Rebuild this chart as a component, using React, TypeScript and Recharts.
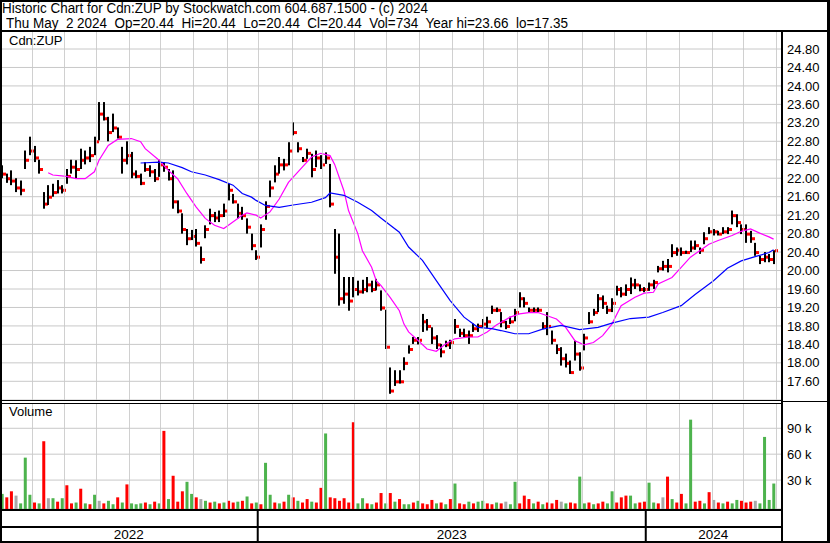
import { ComposedChart, Bar, Line, XAxis, YAxis, CartesianGrid } from 'recharts';

// price bars, one every ~3 sessions (May 2022 -> May 2024)
const HIGH = [
  22.28, 22.1, 22.17, 22.0, 21.95, 22.6, 22.9, 22.7, 22.4, 21.7,
  21.85, 21.88, 21.96, 21.85, 22.2, 22.4, 22.39, 22.64, 22.6, 22.68,
  22.9, 23.65, 23.65, 23.33, 23.4, 23.1, 22.68, 22.8, 22.57, 22.17,
  22.1, 22.35, 22.28, 22.2, 22.4, 22.35, 22.2, 22.17, 21.52, 21.24,
  20.9, 20.88, 20.9, 20.52, 20.98, 21.34, 21.27, 21.3, 21.45, 21.88,
  21.66, 21.45, 21.38, 21.13, 20.8, 20.44, 21.0, 21.5, 21.95, 22.28,
  22.46, 22.42, 22.78, 23.21, 22.78, 22.46, 22.64, 22.53, 22.6, 22.5,
  22.56, 22.31, 20.9, 20.8, 19.86, 19.86, 19.86, 19.78, 19.8, 19.86,
  19.78, 19.82, 19.57, 19.15, 17.9, 17.84, 17.84, 18.12, 18.38, 18.56,
  18.56, 19.06, 18.95, 18.77, 18.6, 18.41, 18.48, 18.5, 18.95, 18.74,
  18.74, 18.7, 18.85, 18.85, 18.95, 19.0, 19.24, 19.2, 19.1, 18.91,
  19.0, 19.17, 19.53, 19.42, 19.2, 19.2, 19.2, 18.88, 19.1, 18.7,
  18.4, 18.34, 18.2, 18.05, 18.48, 18.23, 18.63, 19.1, 19.17, 19.49,
  19.46, 19.24, 19.4, 19.67, 19.64, 19.7, 19.85, 19.82, 19.7, 19.64,
  19.74, 19.8, 20.1, 20.21, 20.25, 20.57, 20.5, 20.5, 20.43, 20.65,
  20.65, 20.5, 20.83, 20.94, 20.9, 20.86, 20.94, 20.94, 21.3, 21.22,
  21.0, 21.0, 20.86, 20.6, 20.32, 20.4, 20.36, 20.44,
];
const LOW = [
  22.0, 21.9, 21.85, 21.7, 21.63, 22.2, 22.5, 22.35, 22.1, 21.34,
  21.42, 21.6, 21.67, 21.67, 21.88, 22.1, 22.0, 22.2, 22.3, 22.35,
  22.5, 22.82, 23.25, 22.8, 23.0, 22.86, 22.1, 22.3, 22.0, 22.0,
  21.85, 22.14, 22.03, 21.92, 22.03, 22.14, 21.95, 21.34, 21.24, 20.8,
  20.55, 20.66, 20.52, 20.15, 20.7, 21.0, 21.05, 21.05, 21.16, 21.52,
  21.45, 21.13, 21.1, 20.8, 20.44, 20.23, 20.5, 21.1, 21.59, 21.91,
  22.1, 22.17, 22.28, 22.93, 22.56, 22.35, 22.42, 22.02, 22.24, 22.2,
  22.31, 21.37, 19.93, 19.24, 19.28, 19.13, 19.42, 19.46, 19.5, 19.53,
  19.53, 19.57, 19.13, 18.3, 17.33, 17.5, 17.55, 17.84, 18.2, 18.41,
  18.4, 18.67, 18.7, 18.41, 18.3, 18.12, 18.34, 18.3, 18.63, 18.56,
  18.56, 18.41, 18.67, 18.67, 18.77, 18.75, 19.06, 19.1, 18.77, 18.73,
  18.84, 18.9, 19.2, 19.2, 19.1, 19.1, 19.1, 18.73, 18.6, 18.4,
  18.19, 17.94, 17.9, 17.76, 18.05, 17.83, 18.27, 18.84, 19.02, 19.1,
  19.17, 19.06, 19.1, 19.46, 19.42, 19.45, 19.49, 19.6, 19.55, 19.53,
  19.56, 19.6, 19.96, 20.0, 19.96, 20.29, 20.32, 20.32, 20.36, 20.4,
  20.45, 20.36, 20.57, 20.79, 20.76, 20.76, 20.79, 20.79, 21.0, 20.94,
  20.79, 20.6, 20.6, 20.32, 20.14, 20.18, 20.18, 20.14,
];
const CLOSE = [
  22.1, 22.0, 21.95, 21.8, 21.75, 22.4, 22.6, 22.45, 22.2, 21.45,
  21.6, 21.7, 21.8, 21.75, 22.05, 22.25, 22.2, 22.4, 22.45, 22.5,
  22.8, 23.4, 23.3, 23.0, 23.1, 22.9, 22.4, 22.5, 22.1, 22.05,
  21.9, 22.2, 22.15, 22.0, 22.3, 22.25, 22.0, 21.5, 21.3, 20.9,
  20.7, 20.75, 20.6, 20.25, 20.9, 21.2, 21.15, 21.2, 21.3, 21.75,
  21.5, 21.25, 21.2, 20.95, 20.55, 20.3, 20.9, 21.4, 21.8, 22.1,
  22.3, 22.3, 22.6, 23.0, 22.65, 22.4, 22.55, 22.2, 22.45, 22.3,
  22.45, 21.45, 20.3, 19.4, 19.5, 19.35, 19.6, 19.55, 19.6, 19.7,
  19.6, 19.7, 19.2, 18.35, 17.4, 17.6, 17.6, 18.0, 18.3, 18.5,
  18.5, 18.9, 18.8, 18.55, 18.4, 18.25, 18.4, 18.45, 18.8, 18.65,
  18.6, 18.6, 18.75, 18.8, 18.85, 18.9, 19.15, 19.15, 18.9, 18.8,
  18.9, 19.1, 19.4, 19.3, 19.15, 19.15, 19.15, 18.8, 18.8, 18.5,
  18.3, 18.1, 18.0, 17.8, 18.2, 17.9, 18.55, 18.9, 19.1, 19.4,
  19.3, 19.15, 19.3, 19.6, 19.5, 19.6, 19.7, 19.7, 19.6, 19.6,
  19.7, 19.75, 20.05, 20.1, 20.1, 20.4, 20.45, 20.4, 20.4, 20.5,
  20.55, 20.45, 20.7, 20.85, 20.85, 20.8, 20.85, 20.9, 21.2, 21.05,
  20.9, 20.8, 20.7, 20.4, 20.25, 20.3, 20.25, 20.44,
];

// volume in thousands, colour: g = up, r = down, n = unchanged
const VOLUME_K = [
  14, 10, 17, 12, 3, 56, 13, 4, 3, 75,
  9, 9, 5, 9, 24, 3, 4, 20, 3, 2,
  13, 6, 3, 6, 2, 10, 4, 25, 3, 2,
  3, 4, 2, 5, 3, 87, 8, 35, 5, 17,
  28, 14, 10, 8, 6, 4, 5, 3, 4, 6,
  4, 5, 6, 11, 3, 4, 2, 50, 13, 4,
  3, 5, 13, 10, 6, 4, 8, 5, 4, 21,
  84, 10, 9, 6, 9, 4, 97, 3, 9, 3,
  2, 4, 15, 3, 15, 5, 8, 2, 2, 4,
  6, 3, 2, 7, 3, 4, 2, 8, 26, 3,
  2, 5, 3, 5, 6, 3, 2, 4, 3, 5,
  2, 28, 3, 12, 8, 3, 5, 2, 4, 3,
  7, 5, 3, 4, 3, 34, 3, 4, 2, 3,
  5, 3, 17, 4, 10, 12, 12, 3, 4, 5,
  27, 4, 3, 10, 34, 8, 4, 14, 3, 100,
  5, 6, 3, 16, 7, 4, 3, 5, 3, 7,
  6, 4, 5, 6, 3, 80, 7, 26,
];
const VOLUME_DIR =
  'grrngggrgr' + 'ngrgrrgrgr' + 'gnrggrgrgg' + 'grgrgrgrrr' +
  'ggrngrgrgr' + 'rgrgrgrggr' + 'grgrgrrgrr' + 'grrrrrrggr' +
  'grrgrgrggr' + 'grrrgrgrgr' + 'rgrggrrgrn' + 'ggrrrgrgrr' +
  'rngrrggrgr' + 'rggrrrggrr' + 'ggrnrgrrgg' + 'rrgrnrgrgg' + 'rrrngggg';

// moving averages: [bar index, value]
const MA_FAST: [number, number][] = [
  [10, 22.12], [11, 22.07], [14, 22.04], [16, 21.99], [18, 21.99], [20, 22.14], [21, 22.39],
  [23, 22.71], [25, 22.84], [28, 22.86], [30, 22.79], [31, 22.64], [34, 22.39], [36, 22.17],
  [38, 21.99], [40, 21.67], [42, 21.38], [44, 21.13], [46, 20.98], [48, 20.91], [49, 20.98],
  [52, 21.2], [53, 21.25], [55, 21.2], [56, 21.14], [58, 21.27], [60, 21.55], [62, 21.91],
  [65, 22.24], [67, 22.46], [69, 22.54], [71, 22.49], [72, 22.3], [74, 21.73], [75, 21.3],
  [77, 20.8], [78, 20.43], [80, 20.07], [81, 19.78], [82, 19.68], [84, 19.42], [86, 19.13],
  [87, 18.84], [88, 18.67], [90, 18.49], [92, 18.3], [94, 18.25], [96, 18.41], [98, 18.52],
  [101, 18.56], [103, 18.56], [105, 18.67], [107, 18.82], [110, 18.99], [112, 19.06],
  [114, 19.09], [116, 19.09], [118, 19.02], [120, 18.95], [122, 18.77], [124, 18.48],
  [126, 18.39], [128, 18.44], [130, 18.59], [132, 18.84], [134, 19.24], [137, 19.42],
  [139, 19.51], [141, 19.53], [142, 19.71], [145, 19.85], [147, 20.07], [149, 20.29],
  [151, 20.43], [153, 20.57], [155, 20.65], [158, 20.76], [160, 20.85], [162, 20.9],
  [164, 20.81], [166, 20.73], [167, 20.68],
];
const MA_SLOW: [number, number][] = [
  [30, 22.33], [34, 22.35], [36, 22.33], [39, 22.23], [41, 22.14], [44, 22.07], [47, 21.97],
  [50, 21.85], [52, 21.67], [54, 21.59], [55, 21.52], [57, 21.41], [60, 21.37], [63, 21.42],
  [67, 21.48], [70, 21.58], [71, 21.68], [74, 21.63], [77, 21.48], [80, 21.3], [82, 21.14],
  [86, 20.83], [88, 20.51], [91, 20.22], [94, 19.78], [97, 19.35], [100, 18.99], [103, 18.77],
  [106, 18.74], [108, 18.7], [111, 18.63], [114, 18.63], [117, 18.73], [121, 18.81],
  [125, 18.72], [129, 18.77], [132, 18.86], [136, 18.96], [140, 18.99], [143, 19.09],
  [147, 19.24], [150, 19.48], [154, 19.78], [157, 20.05], [160, 20.21], [163, 20.3],
  [166, 20.39], [167, 20.45],
];

// month starts and year starts, in bar index units
const MONTH_TICKS = [
  6.43, 13.48, 20.35, 27.55, 34.26, 41.41, 48.64, 55.35, 62.71, 69.2, 76.26, 83.05,
  90.32, 97.34, 104.18, 111.54, 118.25, 125.48, 132.47, 139.33, 146.54, 153.61, 160.45, 167.53,
];
const YEAR_STARTS = [55.35, 139.33];
const YEARS = ['2022', '2023', '2024'];
const PRICE_TICKS = [
  17.6, 18.0, 18.4, 18.8, 19.2, 19.6, 20.0, 20.4, 20.8, 21.2,
  21.6, 22.0, 22.4, 22.8, 23.2, 23.6, 24.0, 24.4, 24.8,
];
const VOLUME_TICKS = [30000, 60000, 90000];

const X_DOMAIN: [number, number] = [-0.43, 168.6];
const FONT = '"Liberation Sans", Arial, sans-serif';
const GRID = '#c8c8c8';
const VOL_COLORS: Record<string, string> = { g: '#4db34d', r: '#ff0000', n: '#a9a9a9' };
const PRICE_H = 369;
const VOL_H = 106;

const fastMap = new Map(MA_FAST);
const slowMap = new Map(MA_SLOW);
const rows = HIGH.map((hi, i) => ({
  i,
  range: [LOW[i], hi],
  close: CLOSE[i],
  fast: fastMap.get(i) ?? null,
  slow: slowMap.get(i) ?? null,
  vol: VOLUME_K[i] * 1000,
  dir: VOLUME_DIR[i],
}));

const yearBounds = [X_DOMAIN[0], ...YEAR_STARTS, X_DOMAIN[1]];
const yearCenters = YEARS.map((_y, k) => (yearBounds[k] + yearBounds[k + 1]) / 2);
const volumeAxisTicks = Array.from(new Set([...MONTH_TICKS, ...yearCenters])).sort((a, b) => a - b);

function PriceBar(props: any) {
  const { x, y, width, height, payload } = props;
  const top = Math.min(y, y + height);
  const h = Math.max(Math.abs(height), 1);
  const [lo, hi] = payload.range;
  const cx = Math.round(x + width / 2);
  const cy = hi > lo ? top + ((hi - payload.close) / (hi - lo)) * h : top;
  return (
    <g>
      <rect x={cx - 1} y={top} width={2} height={h} fill="#000" />
      <rect x={cx + 1} y={cy - 1} width={3} height={3} fill="#ff0000" />
    </g>
  );
}

function VolumeBar(props: any) {
  const { x, y, width, height, background, payload } = props;
  const bottom = background ? background.y + background.height : y + height;
  return <rect x={x} y={y} width={width} height={Math.max(bottom - y, 0)} fill={VOL_COLORS[payload.dir]} />;
}

// month grid line (as a 1px filled rect) going up from the bottom axis
function PriceAxisTick(props: any) {
  const { x, y } = props;
  return <rect x={Math.round(x)} y={y - PRICE_H} width={1} height={PRICE_H} fill={GRID} fillOpacity={0.85} />;
}

// volume axis: month grid lines, year separators and year labels
function VolumeAxisTick(props: any) {
  const { x, y, payload } = props;
  const v = payload.value;
  const k = yearCenters.indexOf(v);
  return (
    <g>
      {MONTH_TICKS.includes(v) && (
        <rect x={Math.round(x)} y={y - VOL_H} width={1} height={VOL_H} fill={GRID} fillOpacity={0.85} />
      )}
      {YEAR_STARTS.includes(v) && <rect x={x - 1} y={y} width={2} height={33} fill="#000" />}
      {k >= 0 && (
        <text x={x} y={y + 30} textAnchor="middle" fontSize={13.5} fontFamily={FONT} fill="#000">
          {YEARS[k]}
        </text>
      )}
    </g>
  );
}

const line = (left: number, top: number, width: number, height: number) => (
  <div style={{ position: 'absolute', left, top, width, height, background: '#000' }} />
);

export default function App() {
  return (
    <div style={{ position: 'absolute', left: 0, top: 0, width: 830, height: 543, background: '#fff', fontFamily: FONT, overflow: 'hidden' }}>
      <div style={{ position: 'absolute', left: 2, top: 1, fontSize: 14, lineHeight: '15px', whiteSpace: 'pre', color: '#000', transform: 'scaleX(0.959)', transformOrigin: 'left top' }}>
        Historic Chart for Cdn:ZUP by Stockwatch.com 604.687.1500 - (c) 2024
      </div>
      <div style={{ position: 'absolute', left: 6, top: 15.5, fontSize: 14, lineHeight: '15px', whiteSpace: 'pre', color: '#000', transform: 'scaleX(0.962)', transformOrigin: 'left top' }}>
        {'Thu May  2 2024  Op=20.44  Hi=20.44  Lo=20.44  Cl=20.44  Vol=734  Year hi=23.66  lo=17.35'}
      </div>

      <div style={{ position: 'absolute', left: 0, top: 31 }}>
        <ComposedChart width={830} height={PRICE_H + 1} data={rows} margin={{ top: 0, right: 0, bottom: 0, left: 0 }}>
          <CartesianGrid stroke={GRID} vertical={false} />
          <XAxis
            dataKey="i"
            type="number"
            domain={X_DOMAIN}
            allowDataOverflow
            ticks={MONTH_TICKS}
            interval={0}
            height={1}
            axisLine={false}
            tickLine={false}
            tickSize={0}
            tickMargin={0}
            tick={PriceAxisTick}
          />
          <YAxis
            orientation="right"
            width={49}
            domain={[17.195, 25.19]}
            ticks={PRICE_TICKS}
            allowDataOverflow
            axisLine={false}
            tickLine={false}
            tickSize={4}
            tickMargin={2}
            interval={0}
            tickFormatter={(v: number) => v.toFixed(2)}
            tick={{ fontSize: 13, fill: '#000', fontFamily: FONT }}
          />
          <Bar dataKey="range" barSize={3} shape={PriceBar} isAnimationActive={false} />
          <Line dataKey="fast" type="linear" stroke="#ff00ff" strokeWidth={1.2} dot={false} connectNulls isAnimationActive={false} />
          <Line dataKey="slow" type="linear" stroke="#0000ff" strokeWidth={1.2} dot={false} connectNulls isAnimationActive={false} />
        </ComposedChart>
      </div>

      <div style={{ position: 'absolute', left: 0, top: 403 }}>
        <ComposedChart width={830} height={VOL_H + 33} data={rows} margin={{ top: 0, right: 0, bottom: 0, left: 0 }}>
          <CartesianGrid stroke={GRID} vertical={false} />
          <XAxis
            dataKey="i"
            type="number"
            domain={X_DOMAIN}
            allowDataOverflow
            ticks={volumeAxisTicks}
            interval={0}
            height={33}
            axisLine={false}
            tickLine={false}
            tickSize={0}
            tickMargin={0}
            tick={VolumeAxisTick}
          />
          <YAxis
            orientation="right"
            width={49}
            domain={[-3500, 119300]}
            ticks={VOLUME_TICKS}
            allowDataOverflow
            axisLine={false}
            tickLine={false}
            tickSize={4}
            tickMargin={2}
            interval={0}
            tickFormatter={(v: number) => `${v / 1000} k`}
            tick={{ fontSize: 13, fill: '#000', fontFamily: FONT }}
          />
          <Bar dataKey="vol" barSize={3} shape={VolumeBar} isAnimationActive={false} />
        </ComposedChart>
      </div>

      <div style={{ position: 'absolute', left: 9, top: 34, fontSize: 13, lineHeight: '14px' }}>Cdn:ZUP</div>
      <div style={{ position: 'absolute', left: 9, top: 405, fontSize: 13, lineHeight: '14px' }}>Volume</div>

      {line(0, 0, 830, 2)}
      {line(0, 0, 2, 543)}
      {line(827, 0, 3, 543)}
      {line(0, 30, 830, 2)}
      {line(781, 30, 2, 513)}
      {line(0, 400, 781, 1)}
      {line(0, 403, 781, 1)}
      {line(781, 401, 48, 1)}
      {line(0, 509, 781, 2)}
      {line(0, 526, 781, 2)}
      {line(0, 541, 830, 2)}
    </div>
  );
}
